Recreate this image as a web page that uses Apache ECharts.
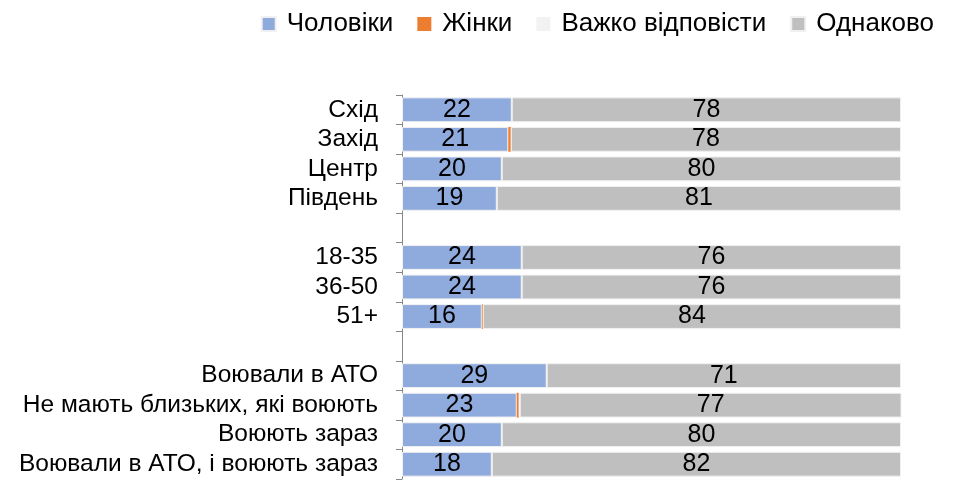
<!DOCTYPE html>
<html>
<head>
<meta charset="utf-8">
<script src="https://cdn.jsdelivr.net/npm/echarts@6/dist/echarts.min.js"></script>
<style>
  html, body { margin: 0; padding: 0; background: #fff; }
  #chart { width: 953px; height: 480px; }
</style>
</head>
<body>
<div id="chart"></div>
<script>
var categories = ["Схід", "Захід", "Центр", "Південь", "", "18-35", "36-50", "51+", "",
  "Воювали в АТО", "Не мають близьких, які воюють", "Воюють зараз", "Воювали в АТО, і воюють зараз"];
var men = [22, 21.3, 20, 19, "-", 24, 24, 16, "-", 29, 23, 20, 18];
var women = [0, 0.5, 0, 0, "-", 0, 0, 0.2, "-", 0, 0.4, 0, 0];
var hard = [0, 0, 0, 0, "-", 0, 0, 0, "-", 0, 0.2, 0, 0];
var same = [78, 78.2, 80, 81, "-", 76, 76, 83.8, "-", 71, 76.5, 80, 82];

var FONT = "Liberation Sans, Arial, sans-serif";

var myChart = echarts.init(document.getElementById("chart"));

function barSeries(name, data, color, showLabel, border) {
  return {
    name: name,
    type: "bar",
    stack: "total",
    barCategoryGap: "16%",
    data: data,
    itemStyle: {
      color: color,
      borderColor: "#f0f0f0",
      borderWidth: border,
    },
    label: {
      show: showLabel,
      position: "inside",
      color: "#000",
      fontSize: 25,
      fontFamily: FONT,
      formatter: function (p) {
        return Math.round(p.value);
      },
    },
    emphasis: { disabled: true },
  };
}

var option = {
  backgroundColor: "#fff",
  animation: false,
  legend: {
    right: 14,
    top: 6,
    itemWidth: 14,
    itemHeight: 14,
    itemGap: 24,
    icon: "rect",
    textStyle: {
      fontSize: 26,
      fontFamily: FONT,
      color: "#000",
      padding: [0, 0, 0, 6],
    },
    data: ["Чоловіки", "Жінки", "Важко відповісти", "Однаково"],
  },
  grid: {
    left: 402,
    right: 52,
    top: 95,
    bottom: 1,
  },
  xAxis: {
    type: "value",
    min: 0,
    max: 100,
    show: false,
  },
  yAxis: {
    type: "category",
    inverse: true,
    data: categories,
    axisLine: {
      show: true,
      lineStyle: { color: "#888", width: 1 },
    },
    axisTick: {
      show: true,
      interval: 0,
      length: 6,
      lineStyle: { color: "#888" },
    },
    axisLabel: {
      interval: 0,
      color: "#000",
      fontSize: 24.5,
      fontFamily: FONT,
      margin: 24,
    },
    splitLine: { show: false },
  },
  series: [
    barSeries("Чоловіки", men, "#8faadc", true, 1),
    barSeries("Жінки", women, "#ed7d31", false, 0),
    barSeries("Важко відповісти", hard, "#f2f2f2", false, 0),
    barSeries("Однаково", same, "#bfbfbf", true, 1),
  ],
};

myChart.setOption(option);
</script>
</body>
</html>
